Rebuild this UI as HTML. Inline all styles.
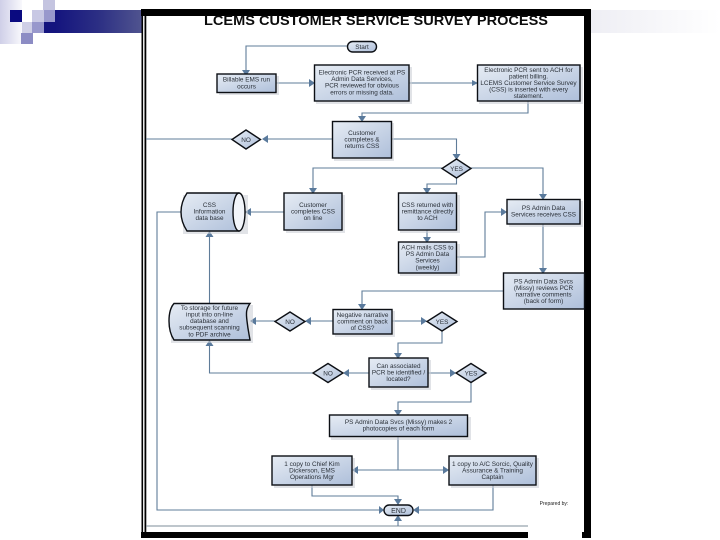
<!DOCTYPE html>
<html>
<head>
<meta charset="utf-8">
<style>
html,body{margin:0;padding:0;background:#fff;width:720px;height:540px;overflow:hidden}
svg{display:block}
.t{font-family:"Liberation Sans",sans-serif;font-size:6.4px;fill:#2a3038;text-anchor:middle;filter:blur(0.35px)}
.b{fill:url(#bx);stroke:#0c0f14;stroke-width:1.4}
.l{fill:none;stroke:#5f7c99;stroke-width:1.1}
.a{fill:#5a7a9c}
.s{fill:#c8ccd4;opacity:.55}
</style>
</head>
<body>
<svg width="720" height="540" viewBox="0 0 720 540" xmlns="http://www.w3.org/2000/svg">
<defs>
<linearGradient id="bx" x1="0" y1="0" x2="1" y2="1"><stop offset="0" stop-color="#e6ecf4"/><stop offset="1" stop-color="#aebfda"/></linearGradient>
<linearGradient id="ban" x1="0" x2="1" y1="0" y2="0"><stop offset="0" stop-color="#14147e"/><stop offset=".5" stop-color="#2c2f84"/><stop offset="1" stop-color="#50548f"/></linearGradient>
<linearGradient id="banr" x1="0" x2="1" y1="0" y2="0"><stop offset="0" stop-color="#eeeef4"/><stop offset="1" stop-color="#ffffff"/></linearGradient>
<linearGradient id="lft" x1="0" x2="1" y1="0" y2="0"><stop offset="0" stop-color="#cfcfe8"/><stop offset="1" stop-color="#f8f8fc"/></linearGradient>
</defs>

<!-- slide decoration -->
<rect x="0" y="0" width="22" height="44" fill="url(#lft)"/>
<rect x="10" y="10" width="12" height="12" fill="#0a0a80"/>
<rect x="32" y="10" width="12" height="12" fill="#c8c8e4"/>
<rect x="43" y="0" width="12" height="10" fill="#c4c4e0"/>
<rect x="44" y="10" width="11" height="12" fill="#9898cc"/>
<rect x="22" y="22" width="10" height="11" fill="#cfcfe6"/>
<rect x="32" y="22" width="12" height="11" fill="#9898cc"/>
<rect x="21" y="33" width="12" height="11" fill="#8c8cc4"/>
<rect x="44" y="22" width="11" height="11" fill="#14147e"/>
<rect x="55" y="10" width="87" height="23" fill="url(#ban)"/>
<rect x="591" y="10" width="129" height="23" fill="url(#banr)"/>

<!-- frame -->
<rect x="146" y="16" width="438" height="516" fill="#fff"/>
<rect x="141" y="9" width="450" height="7" fill="#000"/>
<rect x="584" y="9" width="7" height="529" fill="#000"/>
<rect x="141.5" y="9" width="1.6" height="529" fill="#000"/>
<rect x="144.5" y="9" width="1.8" height="529" fill="#000"/>
<rect x="141" y="532" width="387" height="6" fill="#000"/>
<rect x="528" y="526" width="54" height="13" fill="#fff"/>
<rect x="582" y="532" width="9" height="6" fill="#000"/>
<line x1="146" y1="526" x2="528" y2="526" stroke="#7d8c98" stroke-width="1"/>

<text x="376" y="25" font-family="Liberation Sans,sans-serif" font-weight="bold" font-size="13.4" fill="#0b0b0b" text-anchor="middle" textLength="344" lengthAdjust="spacingAndGlyphs">LCEMS CUSTOMER SERVICE SURVEY PROCESS</text>

<!-- connectors -->
<path class="l" d="M347 46H246V71"/>
<path class="l" d="M276 83H311"/>
<path class="l" d="M409 83H474"/>
<path class="l" d="M528 101V113H362V118"/>
<path class="l" d="M332 139H264"/>
<path class="l" d="M232 139H146"/>
<path class="l" d="M391 139H456.5V156"/>
<path class="l" d="M442 168H313V190"/>
<path class="l" d="M471 168H543V196"/>
<path class="l" d="M456.5 178V184H427V190"/>
<path class="l" d="M284 212H249"/>
<path class="l" d="M181 212H157V510H381"/>
<path class="l" d="M427 230V240"/>
<path class="l" d="M457 257H485V212H504"/>
<path class="l" d="M543 224V270"/>
<path class="l" d="M503 291H362V306"/>
<path class="l" d="M333 321H309"/>
<path class="l" d="M275 321H254"/>
<path class="l" d="M392 321H424"/>
<path class="l" d="M442 331V343H398V355"/>
<path class="l" d="M209.5 303V235"/>
<path class="l" d="M313 373H209.5V344"/>
<path class="l" d="M369 373H347"/>
<path class="l" d="M428 373H453"/>
<path class="l" d="M471 383V402H398V412"/>
<path class="l" d="M398 437V470"/>
<path class="l" d="M356 470H446"/>
<path class="l" d="M312 485V496H398V502"/>
<path class="l" d="M493 485V510H417"/>
<path class="l" d="M398 526V518"/>

<!-- arrowheads -->
<path class="a" d="M242 70h8l-4 6z"/>
<path class="a" d="M309 79v8l6-4z"/>
<path class="a" d="M472 80v6l6-3z"/>
<path class="a" d="M358 116h8l-4 6z"/>
<path class="a" d="M268 135v8l-6-4z"/>
<path class="a" d="M452.500 154h8l-4 6z"/>
<path class="a" d="M309 188h8l-4 6z"/>
<path class="a" d="M539 194h8l-4 6z"/>
<path class="a" d="M423 188h8l-4 6z"/>
<path class="a" d="M251 208v8l-6-4z"/>
<path class="a" d="M423 237h8l-4 6z"/>
<path class="a" d="M501 208v8l6-4z"/>
<path class="a" d="M539 268h8l-4 6z"/>
<path class="a" d="M358 304h8l-4 6z"/>
<path class="a" d="M311 317v8l-6-4z"/>
<path class="a" d="M256 317v8l-6-4z"/>
<path class="a" d="M421 317v8l6-4z"/>
<path class="a" d="M394 353h8l-4 6z"/>
<path class="a" d="M205.500 237h8l-4-6z"/>
<path class="a" d="M205.500 346h8l-4-6z"/>
<path class="a" d="M349 369v8l-6-4z"/>
<path class="a" d="M450 369v8l6-4z"/>
<path class="a" d="M394 410h8l-4 6z"/>
<path class="a" d="M358 466v8l-6-4z"/>
<path class="a" d="M443 466v8l6-4z"/>
<path class="a" d="M394 499h8l-4 6z"/>
<path class="a" d="M379 506v8l5-4z"/>
<path class="a" d="M419 506v8l-6-4z"/>
<path class="a" d="M394 521h8l-4-6z"/>

<!-- shadows -->
<rect class="s" x="219" y="76" width="60" height="19"/>
<rect class="s" x="316" y="67" width="96" height="37"/>
<rect class="s" x="479" y="67" width="104" height="37"/>
<rect class="s" x="334" y="123" width="60" height="38"/>
<rect class="s" x="286" y="195" width="59" height="38"/>
<rect class="s" x="400" y="195" width="60" height="38"/>
<rect class="s" x="400" y="244" width="60" height="32"/>
<rect class="s" x="509" y="201" width="74" height="26"/>
<rect class="s" x="335" y="311" width="60" height="26"/>
<rect class="s" x="371" y="360" width="60" height="30"/>
<rect class="s" x="331" y="417" width="140" height="23"/>
<rect class="s" x="274" y="458" width="81" height="30"/>
<rect class="s" x="451" y="458" width="88" height="30"/>
<rect class="s" x="183" y="195" width="65" height="39"/>
<rect class="s" x="171" y="305" width="82" height="38"/>

<!-- pills -->
<rect class="b" x="347.500" y="41.500" width="29" height="10.500" rx="5.200"/>
<text class="t" x="362" y="49">Start</text>
<rect class="b" x="384" y="505" width="29" height="10.500" rx="5.200"/>
<text class="t" x="398.500" y="513" style="font-size:7px">END</text>

<!-- boxes -->
<rect class="b" x="217" y="74" width="59" height="18.500"/>
<text class="t" x="246.500" y="81.500">Billable EMS run</text>
<text class="t" x="246.500" y="88.500">occurs</text>

<rect class="b" x="314.500" y="65" width="94.500" height="36"/>
<text class="t" x="362" y="74.500">Electronic PCR received at PS</text>
<text class="t" x="362" y="81">Admin Data Services,</text>
<text class="t" x="362" y="87.500">PCR reviewed for obvious</text>
<text class="t" x="362" y="94.500">errors or missing data.</text>

<rect class="b" x="477.500" y="65" width="102.500" height="36"/>
<text class="t" x="528.500" y="72">Electronic PCR sent to ACH for</text>
<text class="t" x="528.500" y="78.500">patient billing.</text>
<text class="t" x="528.500" y="85">LCEMS Customer Service Survey</text>
<text class="t" x="528.500" y="91.500">(CSS) is inserted with every</text>
<text class="t" x="528.500" y="98">statement.</text>

<rect class="b" x="332.500" y="121.500" width="59" height="36.500"/>
<text class="t" x="362" y="135">Customer</text>
<text class="t" x="362" y="141.500">completes &amp;</text>
<text class="t" x="362" y="148">returns CSS</text>

<rect class="b" x="284" y="193" width="58" height="37"/>
<text class="t" x="313" y="207">Customer</text>
<text class="t" x="313" y="213.500">completes CSS</text>
<text class="t" x="313" y="220">on line</text>

<rect class="b" x="398.500" y="193" width="58" height="37"/>
<text class="t" x="427.500" y="207">CSS returned with</text>
<text class="t" x="427.500" y="213.500">remittance directly</text>
<text class="t" x="427.500" y="220">to ACH</text>

<rect class="b" x="398.500" y="242" width="58" height="31"/>
<text class="t" x="427.500" y="249.500">ACH mails CSS to</text>
<text class="t" x="427.500" y="256">PS Admin Data</text>
<text class="t" x="427.500" y="262.500">Services</text>
<text class="t" x="427.500" y="269.500">(weekly)</text>

<rect class="b" x="507" y="199.500" width="73" height="24.500"/>
<text class="t" x="543.500" y="210">PS Admin Data</text>
<text class="t" x="543.500" y="216.500">Services receives CSS</text>

<rect class="b" x="503.500" y="273" width="81" height="36"/>
<text class="t" x="543.500" y="283.500">PS Admin Data Svcs</text>
<text class="t" x="543.500" y="290">(Missy) reviews PCR</text>
<text class="t" x="543.500" y="296.500">narrative comments</text>
<text class="t" x="543.500" y="303">(back of form)</text>

<rect class="b" x="333" y="309.500" width="59" height="24.500"/>
<text class="t" x="362.500" y="317">Negative narrative</text>
<text class="t" x="362.500" y="323.500">comment on back</text>
<text class="t" x="362.500" y="330">of CSS?</text>

<rect class="b" x="369" y="358" width="59" height="29"/>
<text class="t" x="398.500" y="368">Can associated</text>
<text class="t" x="398.500" y="374.500">PCR be identified /</text>
<text class="t" x="398.500" y="381">located?</text>

<rect class="b" x="329.500" y="415" width="138" height="21.500"/>
<text class="t" x="398.500" y="424">PS Admin Data Svcs (Missy) makes 2</text>
<text class="t" x="398.500" y="430.500">photocopies of each form</text>

<rect class="b" x="272" y="456" width="80" height="29"/>
<text class="t" x="312" y="466">1 copy to Chief Kim</text>
<text class="t" x="312" y="472.500">Dickerson, EMS</text>
<text class="t" x="312" y="479">Operations Mgr</text>

<rect class="b" x="449" y="456" width="87" height="29"/>
<text class="t" x="492.500" y="466">1 copy to A/C Sorcic, Quality</text>
<text class="t" x="492.500" y="472.500">Assurance &amp; Training</text>
<text class="t" x="492.500" y="479">Captain</text>

<!-- database cylinder -->
<path class="b" d="M187 193H239C243 199 245 205 245 212C245 219 243 225 239 231H187C183 225 181 219 181 212C181 205 183 199 187 193Z"/>
<ellipse cx="239" cy="212" rx="6" ry="19" fill="#f2f5fa" stroke="#0c0f14" stroke-width="1.400"/>
<text class="t" x="209.500" y="207">CSS</text>
<text class="t" x="209.500" y="213.500">Information</text>
<text class="t" x="209.500" y="220">data base</text>

<!-- storage document -->
<path class="b" d="M174 303.500H250C246 309 246 313 247 321C248 330 249 334 250 340H174C170 334 169 327 169 321C169 314 170 308 174 303.500Z"/>
<text class="t" x="209.500" y="310">To storage for future</text>
<text class="t" x="209.500" y="316.500">input into on-line</text>
<text class="t" x="209.500" y="323">database and</text>
<text class="t" x="209.500" y="329.500">subsequent scanning</text>
<text class="t" x="209.500" y="336.500">to PDF archive</text>

<!-- diamonds -->
<path class="b" d="M246 130L260.500 139.500L246 149L232 139.500Z"/>
<text class="t" x="246" y="142">NO</text>
<path class="b" d="M456.500 159L471 168.500L456.500 178L442 168.500Z"/>
<text class="t" x="456.500" y="171">YES</text>
<path class="b" d="M290 312L305 321.500L290 331L275 321.500Z"/>
<text class="t" x="290" y="324">NO</text>
<path class="b" d="M442 312L457 321.500L442 331L427 321.500Z"/>
<text class="t" x="442" y="324">YES</text>
<path class="b" d="M328 363.500L343 373L328 382.500L313 373Z"/>
<text class="t" x="328" y="375.500">NO</text>
<path class="b" d="M471 363.500L486 373L471 382.500L456 373Z"/>
<text class="t" x="471" y="375.500">YES</text>

<text class="t" x="554" y="505" style="font-size:5px;fill:#222">Prepared by:</text>
</svg>
</body>
</html>
